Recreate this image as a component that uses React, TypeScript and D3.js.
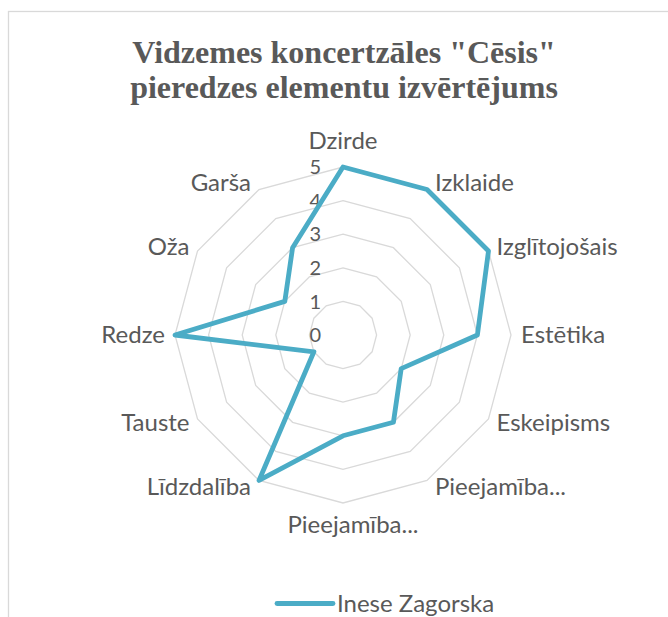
import React from "react";
import * as d3 from "d3";

const TITLE_LINES = ["Vidzemes koncertzāles \"Cēsis\"", "pieredzes elementu izvērtējums"];
const CATEGORIES = [
  "Dzirde",
  "Izklaide",
  "Izglītojošais",
  "Estētika",
  "Eskeipisms",
  "Pieejamība...",
  "Pieejamība...",
  "Līdzdalība",
  "Tauste",
  "Redze",
  "Oža",
  "Garša",
];
const SERIES_NAME = "Inese Zagorska";
const SERIES_VALUES = [5, 5, 5, 4, 2, 3, 3, 5, 1, 5, 2, 3];
const TICKS = [0, 1, 2, 3, 4, 5];

const W = 668;
const H = 617;
const CX = 343;
const CY = 335;
const R = 168;
const TEXT = "#595959";
const GRID = "#D9D9D9";
const LINE = "#4BACC6";
const LABEL_FONT = "Lato, 'Open Sans', sans-serif";

export default function App() {
  const n = CATEGORIES.length;
  const angle = d3
    .scaleLinear()
    .domain([0, n])
    .range([0, 2 * Math.PI]);
  const r = d3.scaleLinear().domain([0, 5]).range([0, R]);

  const ringPath = (v: number) =>
    d3
      .lineRadial<number>()
      .angle((_, i) => angle(i))
      .radius(() => r(v))
      .curve(d3.curveLinearClosed)(d3.range(n)) as string;

  const seriesPath = d3
    .lineRadial<number>()
    .angle((_, i) => angle(i))
    .radius((d) => r(d))
    .curve(d3.curveLinearClosed)(SERIES_VALUES) as string;

  const labels = CATEGORIES.map((c, i) => {
    const a = angle(i);
    const s = Math.sin(a);
    const co = Math.cos(a);
    const px = r(5) * s;
    const py = -r(5) * co;
    let x: number, y: number, anchor: string;
    if (Math.abs(s) < 1e-6) {
      anchor = "middle";
      if (co > 0) {
        x = 0;
        y = py - 18;
      } else {
        x = 10;
        y = py + 30;
      }
    } else {
      anchor = s > 0 ? "start" : "end";
      x = px + (s > 0 ? 8 : -8) + (Math.abs(s) > 0.99 ? (s > 0 ? 2 : -2) : 0);
      y = py + 8 - 8 * co;
    }
    return { c, x, y, anchor, key: i };
  });

  return (
    <svg
      width={W}
      height={H}
      style={{ position: "absolute", left: 0, top: 0, display: "block", background: "#fff" }}
    >
      <rect x={8.5} y={11.5} width={800} height={800} fill="#fff" stroke={GRID} strokeWidth={1.3} />
      <g fontFamily="'Liberation Serif', 'Times New Roman', serif" fontWeight="bold" fontSize={32} fill={TEXT} textAnchor="middle">
        {TITLE_LINES.map((t, i) => (
          <text key={i} x={344} y={63 + i * 35}>
            {t}
          </text>
        ))}
      </g>
      <g transform={`translate(${CX},${CY})`}>
        {TICKS.filter((t) => t > 0).map((t) => (
          <path key={t} d={ringPath(t)} fill="none" stroke={GRID} strokeWidth={1.3} />
        ))}
        {TICKS.map((t) => (
          <text
            key={t}
            x={-22}
            y={-r(t)}
            dy="0.36em"
            textAnchor="end"
            fontFamily={LABEL_FONT}
            fontSize={20}
            fill={TEXT}
          >
            {t}
          </text>
        ))}
        <path d={seriesPath} fill="none" stroke={LINE} strokeWidth={4.8} strokeLinejoin="round" />
        {labels.map((l) => (
          <text
            key={l.key}
            x={l.x}
            y={l.y}
            textAnchor={l.anchor as any}
            fontFamily={LABEL_FONT}
            fontSize={24}
            fill={TEXT}
          >
            {l.c}
          </text>
        ))}
      </g>
      <g>
        <line x1={277} x2={333} y1={603.5} y2={603.5} stroke={LINE} strokeWidth={4.8} strokeLinecap="round" />
        <text x={337} y={612} fontFamily={LABEL_FONT} fontSize={24} fill={TEXT}>
          {SERIES_NAME}
        </text>
      </g>
    </svg>
  );
}
